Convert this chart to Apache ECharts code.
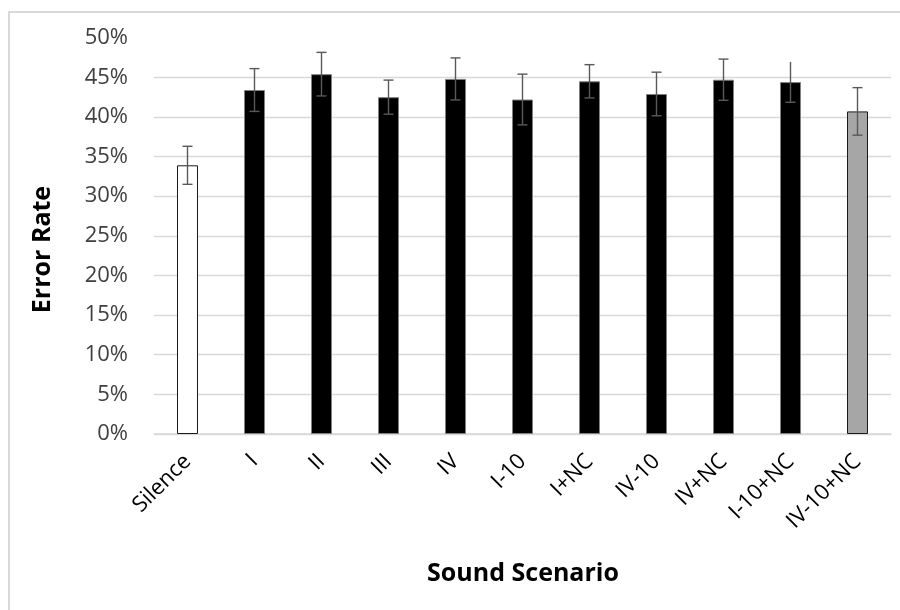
<!DOCTYPE html>
<html>
<head>
<meta charset="utf-8">
<script src="https://cdn.jsdelivr.net/npm/echarts@6/dist/echarts.min.js"></script>
<style>
html,body{margin:0;padding:0;background:#fff;}
#chart{width:900px;height:610px;}
</style>
</head>
<body>
<div id="chart"></div>
<script>
const categories = ['Silence','I','II','III','IV','I-10','I+NC','IV-10','IV+NC','I-10+NC','IV-10+NC'];
const errorRate = [33.9, 43.4, 45.4, 42.5, 44.8, 42.2, 44.5, 42.9, 44.7, 44.4, 40.7];
const errorMargin = [2.4, 2.7, 2.75, 2.15, 2.65, 3.2, 2.1, 2.75, 2.6, 2.55, 3.0];
const topCap = [true, true, true, true, true, true, true, true, true, false, true];
const yTicks = [0, 5, 10, 15, 20, 25, 30, 35, 40, 45, 50];

const fills = categories.map((c, i) => i === 0 ? '#ffffff' : (i === categories.length - 1 ? '#a6a6a6' : '#000000'));
const borders = categories.map((c, i) => i === 0 ? '#1a1a1a' : (i === categories.length - 1 ? '#1a1a1a' : '#808080'));

const barData = errorRate.map((v, i) => ({
  value: v,
  itemStyle: { color: fills[i], borderColor: borders[i], borderWidth: 1 }
}));
const errData = errorRate.map((v, i) => [i, v - errorMargin[i], v + errorMargin[i], topCap[i] ? 1 : 0]);

const chart = echarts.init(document.getElementById('chart'));
const font = '"Open Sans", "Noto Sans", sans-serif';
chart.setOption({
  animation: false,
  backgroundColor: '#ffffff',
  grid: { left: 154, right: 9, top: 37.7, bottom: 176, containLabel: false },
  xAxis: {
    type: 'category',
    data: categories,
    axisLine: { lineStyle: { color: '#d9d9d9', width: 1.5 } },
    axisTick: { show: false },
    axisLabel: { rotate: 45, margin: 24, fontSize: 22, color: '#000', fontFamily: font, interval: 0 }
  },
  yAxis: {
    type: 'value',
    min: yTicks[0],
    max: yTicks[yTicks.length - 1],
    interval: 5,
    axisLine: { show: false },
    axisTick: { show: false },
    axisLabel: { formatter: '{value}%', fontSize: 22, color: '#404040', margin: 26, fontFamily: font },
    splitLine: { lineStyle: { color: yTicks.map((t, i) => i === yTicks.length - 1 ? 'rgba(0,0,0,0)' : '#d9d9d9'), width: 1.3 } }
  },
  graphic: [
    { type: 'rect', shape: { x: 9, y: 12, width: 900, height: 610 }, style: { fill: 'none', stroke: '#d9d9d9', lineWidth: 2 }, silent: true, z: -1 },
    { type: 'text', x: 42.5, y: 249.5, rotation: Math.PI / 2,
      style: { text: 'Error Rate', font: 'bold 25px ' + font, fill: '#000', textAlign: 'center', textVerticalAlign: 'middle' } },
    { type: 'text', x: 523, y: 574,
      style: { text: 'Sound Scenario', font: 'bold 25px ' + font, fill: '#000', textAlign: 'center', textVerticalAlign: 'middle' } }
  ],
  series: [
    { type: 'bar', data: barData, barWidth: 21 },
    {
      type: 'custom',
      data: errData,
      z: 10,
      renderItem: function (params, api) {
        const x = api.coord([api.value(0), 0])[0];
        const lo = api.coord([api.value(0), api.value(1)]);
        const hi = api.coord([api.value(0), api.value(2)]);
        const hw = 5;
        const st = { stroke: '#595959', lineWidth: 1.4 };
        const children = [
          { type: 'line', shape: { x1: x, y1: hi[1], x2: x, y2: lo[1] }, style: st },
          { type: 'line', shape: { x1: x - hw, y1: lo[1], x2: x + hw, y2: lo[1] }, style: st }
        ];
        if (api.value(3)) children.push({ type: 'line', shape: { x1: x - hw, y1: hi[1], x2: x + hw, y2: hi[1] }, style: st });
        return { type: 'group', children: children };
      }
    }
  ]
});
</script>
</body>
</html>
